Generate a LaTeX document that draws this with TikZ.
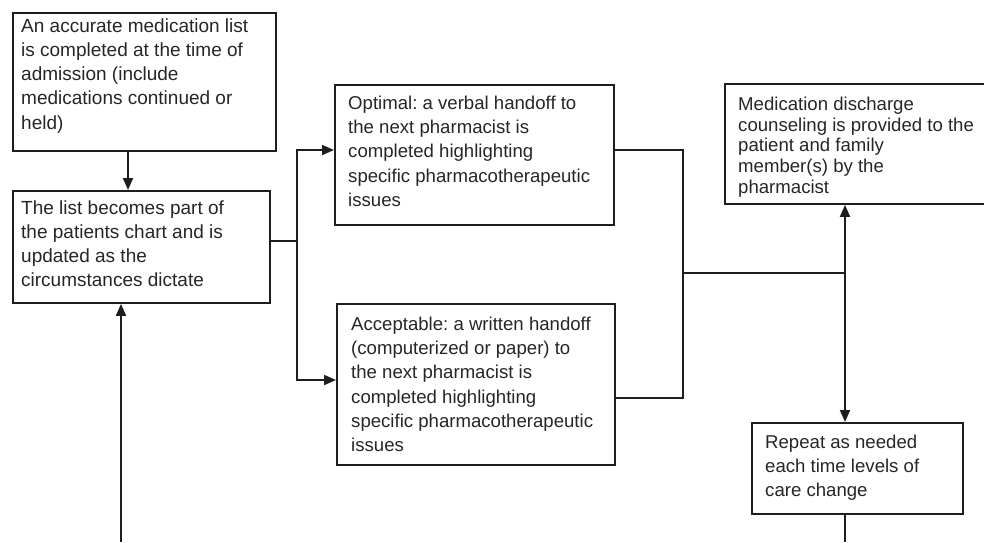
\documentclass[tikz,border=0pt]{standalone}
\usepackage{fontspec}
\setmainfont{Liberation Sans}
\usetikzlibrary{arrows.meta}
\definecolor{ink}{HTML}{1E1E1E}
\definecolor{txt}{HTML}{262626}
\newcommand{\firstln}{\rule{0pt}{17pt}}
\begin{document}
\frenchspacing
\begin{tikzpicture}[x=1pt,y=-1pt,
  box/.style={draw=ink, line width=1.9pt, anchor=north west, inner sep=0pt},
  lbl/.style={anchor=north west, inner sep=0pt, align=left, text=txt,
    font=\fontsize{18.6}{24.3}\selectfont},
  big/.style={font=\fontsize{19}{24.2}\selectfont},
  tight/.style={font=\fontsize{18.6}{20.8}\selectfont},
  conn/.style={draw=ink, line width=1.9pt},
  arr/.style={conn, -{Triangle[length=12pt,width=10pt]}}]
\useasboundingbox (0,0) rectangle (984,542);

% boxes
\node[box, minimum width=263pt, minimum height=138pt] (a) at (12,12) {};
\node[box, minimum width=257pt, minimum height=112pt] (b) at (12,190) {};
\node[box, minimum width=279pt, minimum height=140pt] (c) at (334,84) {};
\node[box, minimum width=278pt, minimum height=161pt] (d) at (336,303) {};
\node[box, minimum width=272pt, minimum height=120pt] (f) at (724,83) {};
\node[box, minimum width=211pt, minimum height=91pt] (e) at (751,422) {};

% texts
\node[lbl, big] (ta) at (21,15)
  {\firstln An accurate medication list\\is completed at the time of\\admission (include\\medications continued or\\held)};
\node[lbl, big] (tb) at (21,197)
  {\firstln The list becomes part of\\the patients chart and is\\updated as the\\circumstances dictate};
\node[lbl] (tc) at (348,92)
  {\firstln Optimal: a verbal handoff to\\the next pharmacist is\\completed highlighting\\specific pharmacotherapeutic\\issues};
\node[lbl] (td) at (351,313)
  {\firstln Acceptable: a written handoff\\(computerized or paper) to\\the next pharmacist is\\completed highlighting\\specific pharmacotherapeutic\\issues};
\node[lbl, tight] (tf) at (738,93)
  {\firstln Medication discharge\\counseling is provided to the\\patient and family\\member(s) by the\\pharmacist};
\node[lbl] (te) at (765,431)
  {\firstln Repeat as needed\\each time levels of\\care change};

% connectors
\coordinate (x1) at (128,0);
\coordinate (j1) at (297,241);
\coordinate (j2) at (683,273);
\coordinate (j3) at (845,273);
\coordinate (eb) at (845,542);
\coordinate (lb) at (121,542);

\draw[arr] (a.south -| x1) -- (b.north -| x1);
\draw[conn] (b.east |- j1) -- (j1);
\draw[arr] (j1) |- (c.west |- 0,150);
\draw[arr] (j1) |- (d.west |- 0,380);
\draw[conn] (c.east |- 0,150) -| (j2) |- (d.east |- 0,398);
\draw[conn] (j2) -- (j3);
\draw[arr] (j3) -- (f.south -| j3);
\draw[arr] (j3) -- (e.north -| j3);
\draw[conn] (e.south -| eb) -- (eb);
\draw[arr] (lb) -- (b.south -| lb);
\end{tikzpicture}
\end{document}
